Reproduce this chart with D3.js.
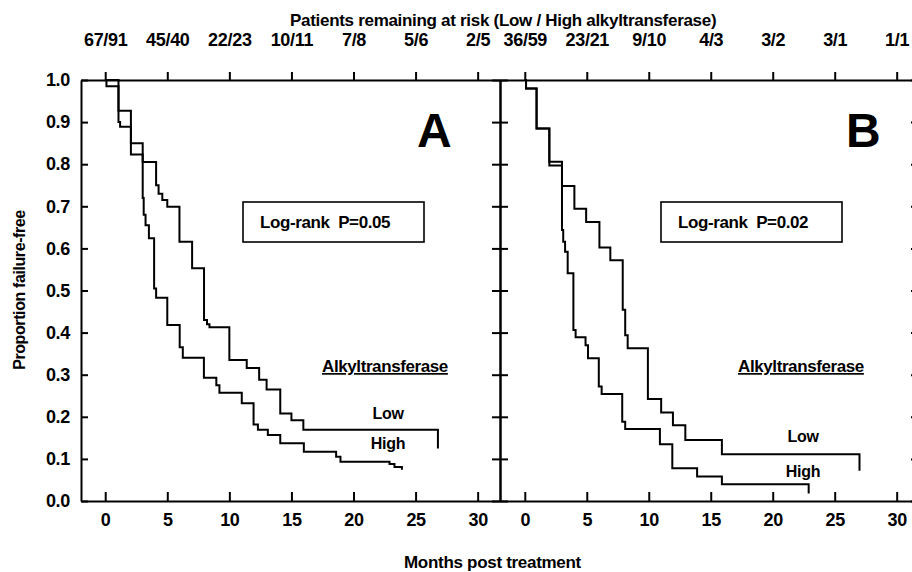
<!DOCTYPE html>
<html><head><meta charset="utf-8">
<script src="https://cdn.jsdelivr.net/npm/d3@7"></script>
<style>
html,body{margin:0;padding:0;background:#fff;}
svg{display:block;}
text{font-family:"Liberation Sans",Arial,sans-serif;fill:#000;}
</style></head>
<body>
<svg id="chart" width="912" height="572"></svg>
<script>
// ---------------- data ----------------
const xTickValues = [0, 5, 10, 15, 20, 25, 30];
const yTickValues = [0, 0.1, 0.2, 0.3, 0.4, 0.5, 0.6, 0.7, 0.8, 0.9, 1.0];
const yTickLabels = ["0.0", "0.1", "0.2", "0.3", "0.4", "0.5", "0.6", "0.7", "0.8", "0.9", "1.0"];
const riskLabelsA = ["67/91", "45/40", "22/23", "10/11", "7/8", "5/6", "2/5"];
const riskLabelsB = ["36/59", "23/21", "9/10", "4/3", "3/2", "3/1", "1/1"];
const panelNames = ["A", "B"];
const pValues = ["Log-rank  P=0.05", "Log-rank  P=0.02"];
const groupNames = ["Low", "High"];

// Panel A, Low alkyltransferase (months, proportion failure-free)
const lowA_t = [0, 1.07, 2.07, 3.02, 4.1, 4.3, 4.6, 5.0, 5.98, 7.0, 7.96, 8.2, 8.4, 10.0, 11.4, 12.4, 13.0, 14.1, 15.0, 15.96, 26.8];
const lowA_s = [1.0, 0.927, 0.85, 0.805, 0.75, 0.73, 0.715, 0.699, 0.616, 0.553, 0.43, 0.42, 0.413, 0.335, 0.316, 0.288, 0.265, 0.208, 0.192, 0.169, 0.169];
const lowA_end = 0.125;
// Panel A, High alkyltransferase
const highA_t = [0, 0.1, 1.07, 1.2, 2.07, 3.02, 3.1, 3.25, 3.52, 3.94, 4.1, 5.0, 6.0, 6.25, 7.95, 8.95, 9.2, 11.0, 11.95, 12.3, 13.1, 14.1, 16.0, 18.6, 18.95, 22.9, 23.3, 23.9];
const highA_s = [1.0, 0.985, 0.9, 0.889, 0.823, 0.72, 0.68, 0.655, 0.624, 0.505, 0.483, 0.418, 0.365, 0.34, 0.293, 0.275, 0.257, 0.232, 0.182, 0.169, 0.157, 0.137, 0.117, 0.105, 0.093, 0.088, 0.081, 0.074];
const highA_end = 0.074;
// Panel B, Low alkyltransferase
const lowB_t = [0, 0.1, 0.95, 1.98, 3.0, 4.0, 4.95, 6.02, 6.9, 7.9, 8.1, 8.3, 9.93, 11.0, 11.95, 12.95, 15.9, 27.0];
const lowB_s = [1.0, 0.98, 0.885, 0.806, 0.748, 0.694, 0.663, 0.602, 0.572, 0.454, 0.394, 0.363, 0.242, 0.21, 0.18, 0.145, 0.111, 0.111];
const lowB_end = 0.072;
// Panel B, High alkyltransferase
const highB_t = [0, 0.1, 0.95, 1.98, 3.0, 3.1, 3.25, 3.46, 3.92, 4.1, 4.9, 5.1, 5.97, 6.2, 7.86, 8.1, 10.9, 11.9, 13.9, 15.9, 22.9];
const highB_s = [1.0, 0.98, 0.885, 0.797, 0.644, 0.616, 0.592, 0.541, 0.406, 0.389, 0.37, 0.339, 0.272, 0.254, 0.188, 0.171, 0.135, 0.078, 0.058, 0.04, 0.04];
const highB_end = 0.018;

// ---------------- layout ----------------
const FONT = '"Liberation Sans",Arial,sans-serif';
const svg = d3.select("#chart");
const yTop = 80, yBot = 501;
const y = d3.scaleLinear().domain([0, 1]).range([yBot, yTop]);

const panels = [
  {name: panelNames[0], x: d3.scaleLinear().domain([-1.95, 31.8]).range([81, 500]), risk: riskLabelsA,
   curves: [[lowA_t, lowA_s, lowA_end], [highA_t, highA_s, highA_end]], p: pValues[0],
   box: [243, 202, 181, 40], letter: [417, 147],
   alk: [322, 372], low: [388, 419], high: [388, 449]},
  {name: panelNames[1], x: d3.scaleLinear().domain([-2.0, 31.8]).range([500, 919]), risk: riskLabelsB,
   curves: [[lowB_t, lowB_s, lowB_end], [highB_t, highB_s, highB_end]], p: pValues[1],
   box: [661, 202, 181, 40], letter: [846, 147],
   alk: [738, 372], low: [803, 442], high: [803, 477]}
];

const line = d3.line().curve(d3.curveStepAfter);

const styleAxis = (g, size) => {
  g.selectAll("path,line").attr("stroke", "#000").attr("stroke-width", 2);
  g.selectAll("text").attr("font-size", size || 18).attr("font-weight", "bold")
    .attr("letter-spacing", "-0.3px").attr("fill", "#000").attr("font-family", FONT);
};

panels.forEach((P) => {
  const x = P.x;
  // bottom axis, inward ticks
  svg.append("g").attr("transform", `translate(0,${yBot})`)
    .call(d3.axisBottom(x).tickValues(xTickValues).tickSizeInner(-9).tickSizeOuter(0).tickPadding(12))
    .call(styleAxis);
  // top axis: patients at risk
  svg.append("g").attr("transform", `translate(0,${yTop})`)
    .call(d3.axisTop(x).tickValues(xTickValues).tickFormat((d, i) => P.risk[i]).tickSizeInner(8).tickSizeOuter(0).tickPadding(26))
    .call(styleAxis);

  // curves
  P.curves.forEach(([ts, ss, endS]) => {
    const pts = ts.map((t, i) => [x(t), y(ss[i])]);
    pts.push([x(ts[ts.length - 1]), y(endS)]);
    svg.append("path").attr("d", line(pts)).attr("fill", "none")
      .attr("stroke", "#000").attr("stroke-width", 2);
  });

  // Log-rank box
  const [bx, by, bw, bh] = P.box;
  svg.append("rect").attr("x", bx).attr("y", by).attr("width", bw).attr("height", bh)
    .attr("fill", "#fff").attr("stroke", "#000").attr("stroke-width", 1.6);
  svg.append("text").attr("x", bx + 17).attr("y", by + bh / 2 + 6)
    .attr("font-size", 17).attr("letter-spacing", "-0.4px")
    .attr("font-weight", "bold").style("white-space", "pre").text(P.p);

  // Panel letter
  svg.append("text").attr("x", P.letter[0]).attr("y", P.letter[1])
    .attr("font-size", 48).attr("font-weight", "bold").text(P.name);

  // Legend labels
  svg.append("text").attr("x", P.alk[0]).attr("y", P.alk[1])
    .attr("font-size", 17).attr("font-weight", "bold").attr("letter-spacing", "-0.4px")
    .attr("text-decoration", "underline").text("Alkyltransferase");
  svg.append("text").attr("x", P.low[0]).attr("y", P.low[1]).attr("text-anchor", "middle")
    .attr("font-size", 16).attr("font-weight", "bold").attr("letter-spacing", "-0.3px").text(groupNames[0]);
  svg.append("text").attr("x", P.high[0]).attr("y", P.high[1]).attr("text-anchor", "middle")
    .attr("font-size", 16).attr("font-weight", "bold").attr("letter-spacing", "-0.3px").text(groupNames[1]);
});

// Left axis (panel A) with labels, inward ticks
svg.append("g").attr("transform", "translate(81,0)")
  .call(d3.axisLeft(y).tickValues(yTickValues).tickFormat((d, i) => yTickLabels[i]).tickSizeInner(-7).tickSizeOuter(0).tickPadding(11))
  .call(styleAxis);
// Divider axis between panels: ticks cross both sides
svg.append("g").attr("transform", "translate(500,0)")
  .call(d3.axisLeft(y).tickValues(yTickValues).tickFormat("").tickSizeInner(8).tickSizeOuter(0))
  .call(styleAxis);
svg.append("g").attr("transform", "translate(500,0)")
  .call(d3.axisRight(y).tickValues(yTickValues).tickFormat("").tickSizeInner(8).tickSizeOuter(0))
  .call(styleAxis);
// Right axis of panel B, inward ticks
svg.append("g").attr("transform", "translate(919,0)")
  .call(d3.axisRight(y).tickValues(yTickValues).tickFormat("").tickSizeInner(-8).tickSizeOuter(0))
  .call(styleAxis);

// Titles
svg.append("text").attr("x", 290).attr("y", 26)
  .attr("font-size", 17).attr("font-weight", "bold").attr("letter-spacing", "-0.3px")
  .text("Patients remaining at risk (Low / High alkyltransferase)");
svg.append("text").attr("transform", "translate(25,290) rotate(-90)").attr("text-anchor", "middle")
  .attr("font-size", 16).attr("font-weight", "bold").attr("letter-spacing", "-0.4px")
  .text("Proportion failure-free");
svg.append("text").attr("x", 404).attr("y", 568)
  .attr("font-size", 17).attr("font-weight", "bold").attr("letter-spacing", "-0.3px")
  .text("Months post treatment");
</script>
</body></html>
